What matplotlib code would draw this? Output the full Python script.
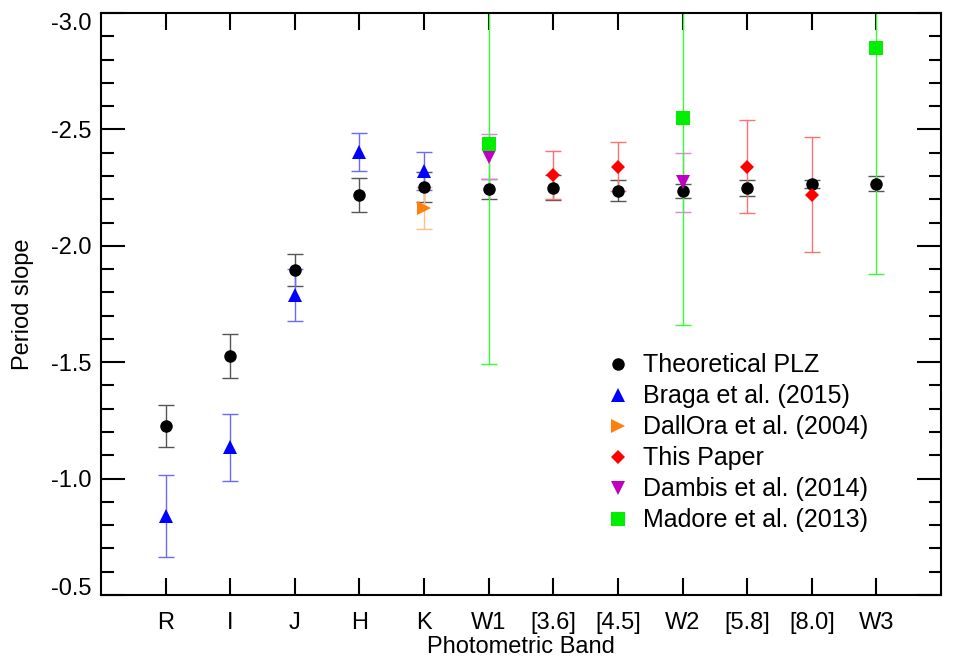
import matplotlib
matplotlib.use("Agg")
import matplotlib.pyplot as plt
from matplotlib.lines import Line2D
from matplotlib.ticker import MultipleLocator
import numpy as np

plt.rcParams["font.family"] = ["Liberation Sans", "DejaVu Sans"]

## DATA ##
bands = ["R", "I", "J", "H", "K", "W1", "[3.6]", "[4.5]", "W2", "[5.8]", "[8.0]", "W3"]
nan = np.nan

theory_slope = [-1.225, -1.527, -1.896, -2.217, -2.251, -2.245, -2.250, -2.237, -2.235, -2.248, -2.265, -2.267]
theory_err   = [0.090, 0.095, 0.070, 0.073, 0.065, 0.043, 0.055, 0.046, 0.030, 0.035, 0.018, 0.031]

braga_slope = [-0.840, -1.134, -1.789, -2.404, -2.321, nan, nan, nan, nan, nan, nan, nan]
braga_err   = [0.175, 0.143, 0.110, 0.082, 0.080, nan, nan, nan, nan, nan, nan, nan]

dallora_slope = [nan, nan, nan, nan, -2.162, nan, nan, nan, nan, nan, nan, nan]
dallora_err   = [nan, nan, nan, nan, 0.090, nan, nan, nan, nan, nan, nan, nan]

paper_slope = [nan, nan, nan, nan, nan, nan, -2.304, -2.340, nan, -2.340, -2.220, nan]
paper_err   = [nan, nan, nan, nan, nan, nan, 0.105, 0.104, nan, 0.200, 0.247, nan]

dambis_slope = [nan, nan, nan, nan, nan, -2.383, nan, nan, -2.273, nan, nan, nan]
dambis_err   = [nan, nan, nan, nan, nan, 0.097, nan, nan, 0.127, nan, nan, nan]

madore_slope = [nan, nan, nan, nan, nan, -2.437, nan, nan, -2.549, nan, nan, -2.848]
madore_err   = [nan, nan, nan, nan, nan, 0.945, nan, nan, 0.890, nan, nan, 0.970]

x = np.arange(1, len(bands) + 1)

## SERIES STYLE ##
series = [
    (theory_slope,  theory_err,  "o", "black",   "#555555", 9.0, "Theoretical PLZ"),
    (braga_slope,   braga_err,   "^", "#0000ff", "#6a6aff", 10.0, "Braga et al. (2015)"),
    (dallora_slope, dallora_err, ">", "#ff7f0e", "#ffc080", 10.0, "DallOra et al. (2004)"),
    (paper_slope,   paper_err,   "D", "#ff0000", "#ff7070", 7.0, "This Paper"),
    (dambis_slope,  dambis_err,  "v", "#c000c0", "#e080e0", 10.0, "Dambis et al. (2014)"),
    (madore_slope,  madore_err,  "s", "#00ee00", "#33ff33", 9.5, "Madore et al. (2013)"),
]

FS = 17

fig = plt.figure(figsize=(9.54, 6.69), dpi=100)
ax = fig.add_axes([0.1059, 0.1106, 0.8805, 0.8700])

handles = []
for slope, err, marker, color, ecolor, ms, label in series:
    ax.errorbar(x, slope, yerr=err, fmt="none", ecolor=ecolor, elinewidth=1.0,
                capsize=6, capthick=1.0, zorder=2)
    ax.plot(x, slope, linestyle="none", marker=marker, color=color,
            markersize=ms, markeredgewidth=0, zorder=3)
    handles.append(Line2D([], [], linestyle="none", marker=marker, color=color,
                          markersize=ms, markeredgewidth=0, label=label))

## AXES ##
ax.set_xlim(0, 13)
ax.set_ylim(-0.5, -3.0)
ax.set_xticks(x)
ax.set_xticklabels(bands)
ax.yaxis.set_major_locator(MultipleLocator(0.5))
ax.yaxis.set_minor_locator(MultipleLocator(0.1))
ax.yaxis.set_major_formatter(matplotlib.ticker.FormatStrFormatter("%.1f"))

ax.tick_params(axis="x", which="major", direction="in", length=12, width=1.5,
               top=True, labelsize=FS, pad=12)
ax.tick_params(axis="y", which="major", direction="in", length=17, width=1.5,
               right=True, labelsize=FS, pad=7)
ax.tick_params(axis="y", which="minor", direction="in", length=9, width=1.5,
               right=True)
for spine in ax.spines.values():
    spine.set_linewidth(1.5)

# end labels of the y axis sit inside the frame, as in the original
fig.canvas.draw()
for lab in ax.get_yticklabels():
    if lab.get_text() == "-3.0":
        lab.set_verticalalignment("top")
    elif lab.get_text() == "-0.5":
        lab.set_verticalalignment("baseline")

ax.set_xlabel("Photometric Band", fontsize=FS, labelpad=2)
ax.set_ylabel("Period slope", fontsize=FS, labelpad=12)

ax.legend(handles=handles, loc="upper left", bbox_to_anchor=(0.601, 0.415),
          frameon=False, fontsize=18, handletextpad=0.5, labelspacing=0.28,
          handlelength=1.0, borderaxespad=0, borderpad=0)

plt.savefig("out.png", dpi=100)
